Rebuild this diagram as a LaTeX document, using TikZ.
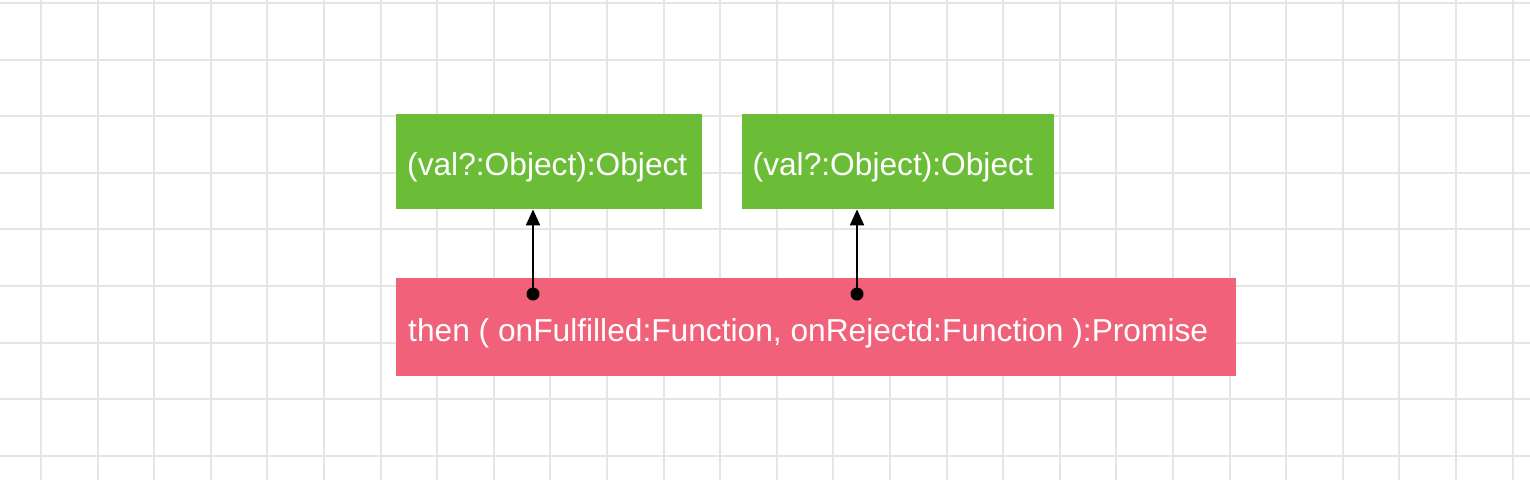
\documentclass[tikz,border=0pt]{standalone}
\usepackage{fontspec}
\setmainfont{Liberation Sans}
\usetikzlibrary{arrows.meta}
\definecolor{gridc}{RGB}{229,229,229}
\definecolor{boxgreen}{RGB}{107,189,56}
\definecolor{boxred}{RGB}{241,97,121}
\tikzset{
  greenbox/.style={draw=none,fill=boxgreen,inner sep=0pt,minimum height=95pt,anchor=north west},
  redbox/.style={draw=none,fill=boxred,inner sep=0pt,minimum height=98pt,anchor=north west},
  lbl/.style={anchor=base west,inner sep=0pt,text=white,font=\fontsize{31.7}{36}\selectfont},
  conn/.style={line width=2pt,black,-{Triangle[length=16pt,width=14pt]}},
  dotc/.style={fill=black}
}
\begin{document}
\begin{tikzpicture}[x=1pt,y=-1pt]
\useasboundingbox (0,0) rectangle (1530,480);
\fill[white] (0,0) rectangle (1530,480);
% grid
\foreach \i in {0,...,26} {
  \draw[gridc,line width=2pt] ({41+56.6*\i},0) -- ({41+56.6*\i},480);
}
\foreach \j in {0,...,8} {
  \draw[gridc,line width=2pt] (0,{3+56.6*\j}) -- (1530,{3+56.6*\j});
}
% boxes
\node[greenbox,minimum width=306pt] (g1) at (396,114) {};
\node[greenbox,minimum width=312pt] (g2) at (742,114) {};
\node[redbox,minimum width=840pt] (r) at (396,278) {};
% labels
\node[lbl] (t1) at (407,175.5) {(val?:Object):Object};
\node[lbl] (t2) at (752.5,175.5) {(val?:Object):Object};
\node[lbl] (t3) at (408,341.5) {then ( onFulfilled:Function, onRejectd:Function ):Promise};
% connectors
\coordinate (d1) at (533,294);
\coordinate (d2) at (857,294);
\draw[conn] (d1) -- (d1 |- g1.south);
\draw[conn] (d2) -- (d2 |- g2.south);
\fill[dotc] (d1) circle (6.5pt);
\fill[dotc] (d2) circle (6.5pt);
\end{tikzpicture}
\end{document}
